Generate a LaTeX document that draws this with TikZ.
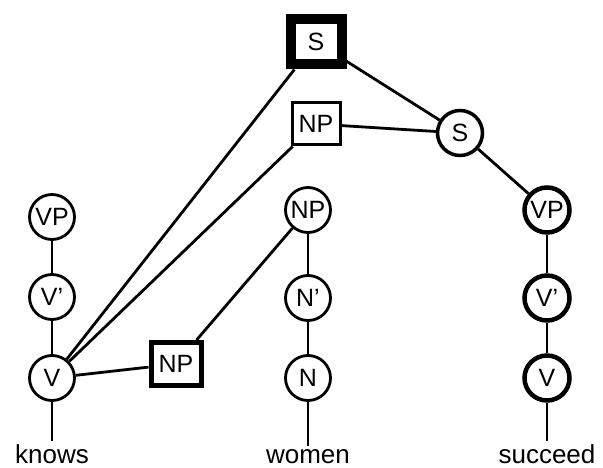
\documentclass[tikz,border=0pt]{standalone}
\usepackage{fontspec}
\setmainfont{Liberation Sans}
\begin{document}
\begin{tikzpicture}[x=1pt, y=-1pt, line width=2.8pt,
	cat/.style={draw, circle, minimum size=45pt, inner sep=0pt, font=\fontsize{25}{28}\selectfont},
	boldcat/.style={cat, line width=4.5pt},
	box/.style={draw, rectangle, inner sep=0pt, font=\fontsize{25}{28}\selectfont},
	word/.style={inner sep=2pt, font=\fontsize{26}{30}\selectfont}]
		\useasboundingbox (0,0) rectangle (603,468);
		\node (S1) at (316,42) [box, line width=10pt, minimum width=51pt, minimum height=45pt] {S};
		\node (NP1) at (316,124) [box, line width=3pt, minimum width=48pt, minimum height=42pt] {NP};
		\node (S2) at (460,133) [cat, line width=3.5pt] {S};
		\node (NP2) at (176,364) [box, line width=5pt, minimum width=50pt, minimum height=43pt] {NP};
		
		\node (VPa) at (52,217) [cat] {VP};
		\node (Va1) at (52,297) [cat] {V'};
		\node (Va) at (52,378) [cat] {V};
		\node (NPb) at (308,210) [cat] {NP};
		\node (Nb1) at (308,298) [cat] {N'};
		\node (Nb) at (308,378) [cat] {N};
		\node (VPc) at (547,210) [boldcat] {VP};
		\node (Vc1) at (547,298) [boldcat] {V'};
		\node (Vc) at (547,378) [boldcat] {V};
		
		\node (w1) at (52,463) [word, anchor=base] {knows};
		\node (w2) at (308,463) [word, anchor=base] {women};
		\node (w3) at (547,463) [word, anchor=base] {succeed};
		
		\draw (VPa) -- (Va1);
		\draw (Va1) -- (Va);
		\draw (Va) -- (w1);
		\draw (NPb) -- (Nb1);
		\draw (Nb1) -- (Nb);
		\draw (Nb) -- (w2);
		\draw (VPc) -- (Vc1);
		\draw (Vc1) -- (Vc);
		\draw (Vc) -- (w3);
		
		\draw (Va) -- (S1);
		\draw (Va) -- (NP1);
		\draw (Va) -- (NP2);
		\draw (NP2) -- (NPb);
		\draw (NP1) -- (S2);
		\draw (S1) -- (S2);
		\draw (S2) -- (VPc);
		\end{tikzpicture}
\end{document}
